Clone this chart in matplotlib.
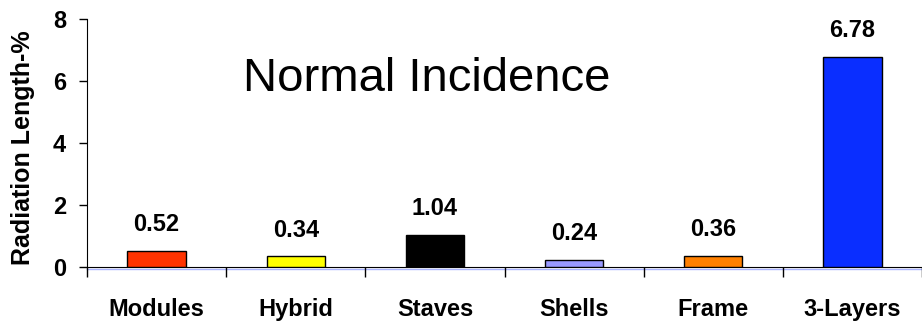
import matplotlib
matplotlib.use('Agg')
import matplotlib.pyplot as plt
import matplotlib.transforms as mtrans
import numpy as np

plt.rcParams['font.family'] = ['Liberation Sans', 'DejaVu Sans']

categories = ['Modules', 'Hybrid', 'Staves', 'Shells', 'Frame', '3-Layers']
values = [0.52, 0.34, 1.04, 0.24, 0.36, 6.78]
bar_colors = ['#FF3300', '#FFFF00', '#000000', '#9999FF', '#FF8000', '#0A2EFF']
yticks = [0, 2, 4, 6, 8]

fig = plt.figure(figsize=(9.22, 3.23), dpi=100)
ax = fig.add_axes([0.0944, 0.1734, 0.9056, 0.768])

x = np.arange(len(categories))
bars = ax.bar(x, values, width=0.42, color=bar_colors, edgecolor='black', linewidth=1, zorder=3)

for xi, v in zip(x, values):
    ax.annotate('%.2f' % v, (xi, v), xytext=(0, 14), textcoords='offset points',
                ha='center', va='baseline', fontsize=17, fontweight='bold')

ax.set_xlim(-0.5, len(categories) - 0.5)
ax.set_ylim(0, 8)
ax.set_yticks(yticks)
ax.set_yticklabels([str(t) for t in yticks], fontsize=17, fontweight='bold')
ax.tick_params(axis='y', length=6, width=1, pad=9)

# ticks between categories, labels centred under bars
ax.set_xticks(np.arange(-0.5, len(categories), 1.0))
ax.set_xticklabels([])
ax.tick_params(axis='x', which='major', length=7, width=1)
ax.set_xticks(x, minor=True)
ax.set_xticklabels(categories, minor=True, fontsize=17, fontweight='bold')
ax.tick_params(axis='x', which='minor', length=0, pad=22)

ax.spines['top'].set_visible(False)
ax.spines['right'].set_visible(False)

# faint blue shadow under the x axis
shift = mtrans.ScaledTranslation(0, -2 / 100, fig.dpi_scale_trans)
ax.plot([0, 1], [0, 0], color='#AAB4FF', lw=1, transform=ax.transAxes + shift,
        clip_on=False, zorder=1)

ax.set_ylabel('Radiation Length-%', fontsize=18, fontweight='bold')
ax.yaxis.set_label_coords(-0.062, 0.48)

ax.text(0.407, 0.708, 'Normal Incidence', transform=ax.transAxes,
        ha='center', va='baseline', fontsize=34)

fig.savefig('out.png', dpi=100)
